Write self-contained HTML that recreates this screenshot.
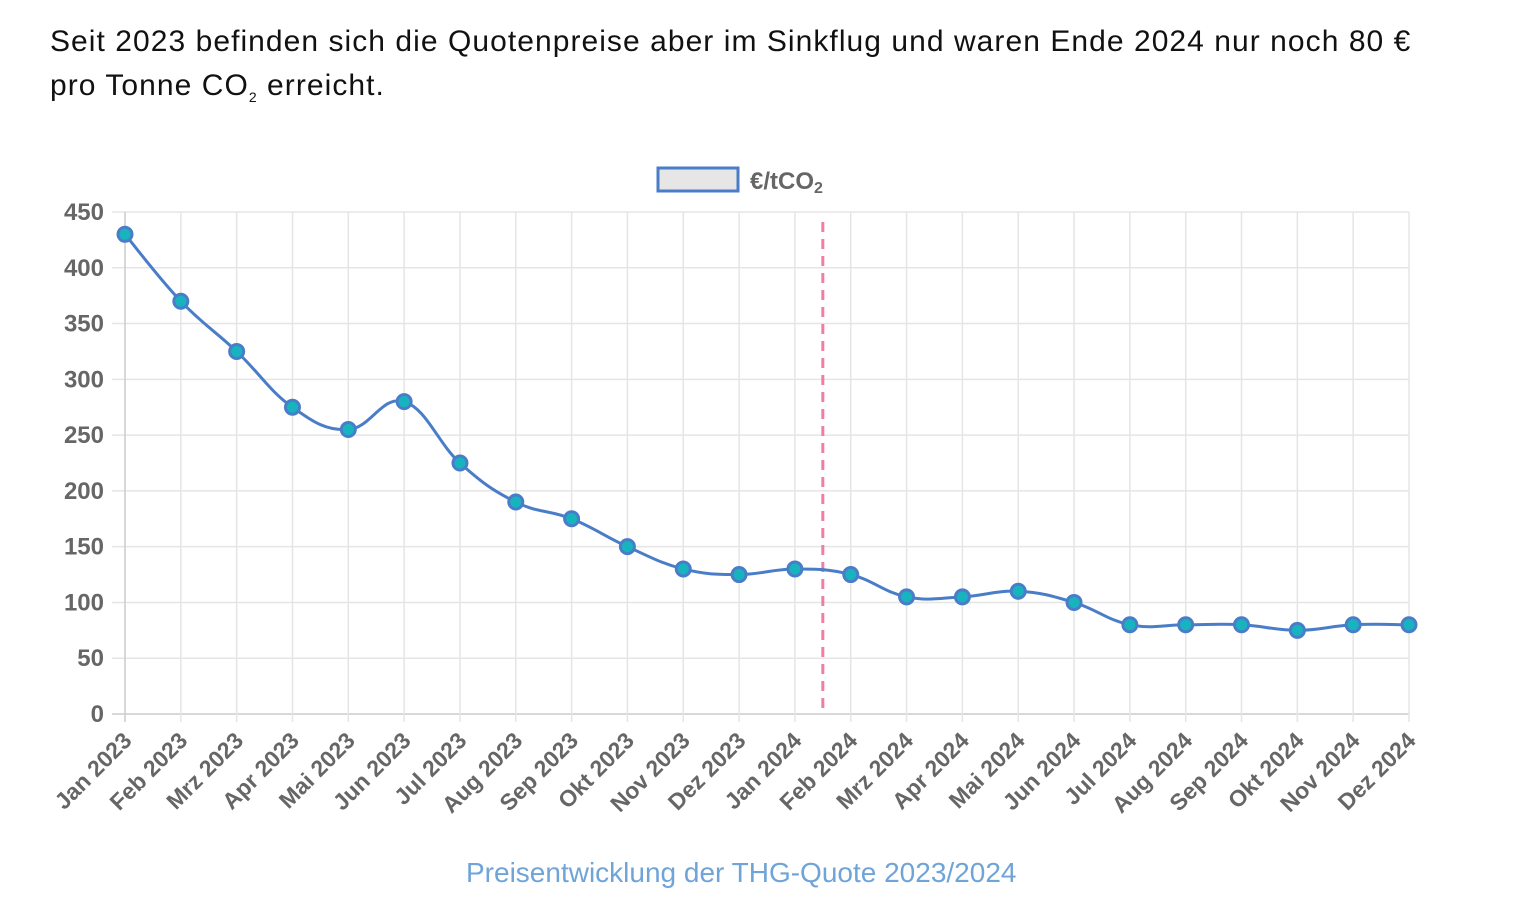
<!DOCTYPE html>
<html><head><meta charset="utf-8"><style>
body{margin:0;width:1532px;height:924px;background:#fff;overflow:hidden;font-family:"Liberation Sans",sans-serif}
#intro{position:absolute;left:50px;top:20px;font-size:30px;letter-spacing:1.05px;line-height:44px;color:#111;margin:0;width:1470px}
#cap{position:absolute;left:466px;top:857px;font-size:28px;color:#6fa4d8;white-space:nowrap}
svg{position:absolute;left:0;top:0}
</style></head><body>
<p id="intro">Seit 2023 befinden sich die Quotenpreise aber im Sinkflug und waren Ende 2024 nur noch 80 €<br>pro Tonne CO<sub style="font-size:14px">2</sub> erreicht.</p>
<svg id="chart" width="1532" height="924"></svg>
<div id="cap">Preisentwicklung der THG-Quote 2023/2024</div>
<script>
const categories=["Jan 2023","Feb 2023","Mrz 2023","Apr 2023","Mai 2023","Jun 2023","Jul 2023","Aug 2023","Sep 2023","Okt 2023","Nov 2023","Dez 2023","Jan 2024","Feb 2024","Mrz 2024","Apr 2024","Mai 2024","Jun 2024","Jul 2024","Aug 2024","Sep 2024","Okt 2024","Nov 2024","Dez 2024"];
const prices=[430,370,325,275,255,280,225,190,175,150,130,125,130,125,105,105,110,100,80,80,80,75,80,80];
const yTicks=[0,50,100,150,200,250,300,350,400,450];
const markerIndex=12.5;
const svg=document.getElementById('chart');const NS='http://www.w3.org/2000/svg';
const X0=125,X1=1409,Y0=714,Y1=212;
const x=i=>X0+i*(X1-X0)/(categories.length-1);
const y=v=>Y0-v*(Y0-Y1)/450;
function mk(t,a,p){const e=document.createElementNS(NS,t);for(const k in a)e.setAttribute(k,a[k]);(p||svg).appendChild(e);return e;}
yTicks.forEach(v=>{
const l=mk('line',{x1:112,x2:X1,y1:y(v),y2:y(v),stroke:v===0?'#ccc':'#e5e5e5','stroke-width':1.5});


const t=mk('text',{x:104,y:y(v)+8,'text-anchor':'end','font-size':24,'font-weight':'bold',fill:'#666'});t.textContent=v;


});
categories.forEach((c,i)=>{
const l=mk('line',{x1:x(i),x2:x(i),y1:Y1,y2:Y0+8,stroke:i===0?'#ccc':'#e5e5e5','stroke-width':1.5});


const t=mk('text',{x:0,y:0,'text-anchor':'end','font-size':23,'font-weight':'bold',fill:'#666',transform:`translate(${x(i)+8},${Y0+28}) rotate(-45)`});t.textContent=c;


});
const dl=mk('line',{x1:x(markerIndex),x2:x(markerIndex),y1:Y1+10,y2:Y0,stroke:'#f07ea0','stroke-width':3,'stroke-dasharray':'10,7'});


const P=prices.map((v,i)=>[x(i),y(v)]);
let d=`M${P[0][0]},${P[0][1]}`;const k=0.2;
for(let i=0;i<P.length-1;i++){const p0=P[Math.max(0,i-1)],p1=P[i],p2=P[i+1],p3=P[Math.min(P.length-1,i+2)];
d+=` C${p1[0]+(p2[0]-p0[0])*k},${p1[1]+(p2[1]-p0[1])*k} ${p2[0]-(p3[0]-p1[0])*k},${p2[1]-(p3[1]-p1[1])*k} ${p2[0]},${p2[1]}`;}
const line=mk('path',{d:d,fill:'none',stroke:'#4a7dc8','stroke-width':3});


P.forEach(p=>{const c=mk('circle',{cx:p[0],cy:p[1],r:7,fill:'#17b4c0',stroke:'#4a7dc8','stroke-width':3});

});
const lb=mk('rect',{x:658,y:168,width:80,height:23,fill:'#e6e6e6',stroke:'#4a7dc8','stroke-width':3});


const lt=mk('text',{x:750,y:189,'font-size':24,'font-weight':'bold',fill:'#666'});
lt.innerHTML='€/tCO<tspan font-size="16" dy="4">2</tspan>';


</script>
</body></html>
